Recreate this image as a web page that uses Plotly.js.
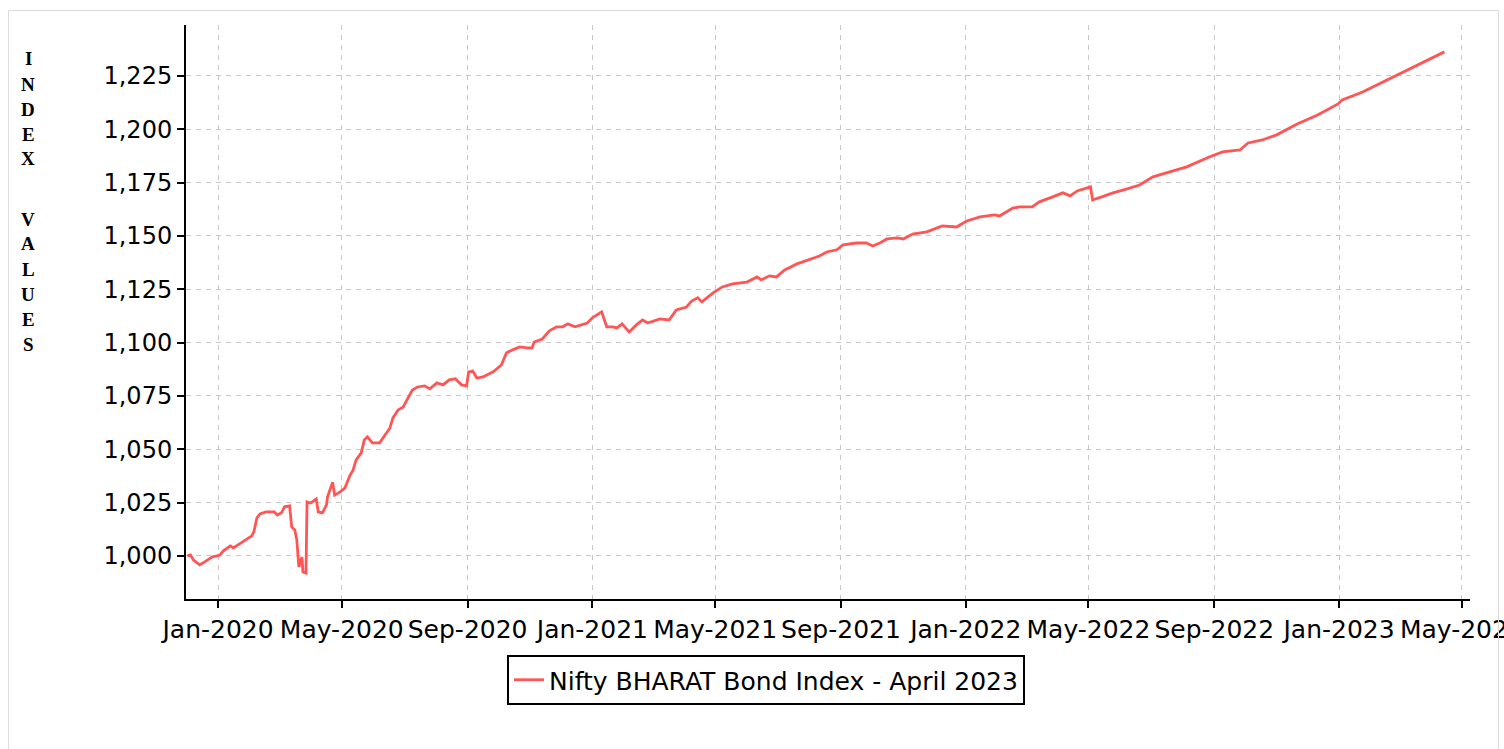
<!DOCTYPE html>
<html>
<head>
<meta charset="utf-8">
<script src="https://cdn.plot.ly/plotly-3.0.1.min.js"></script>
<style>
  html, body { margin: 0; padding: 0; background: #ffffff; }
  #chart { position: absolute; left: 0; top: 0; width: 1504px; height: 749px; }
  #frame { position: absolute; left: 8px; top: 10px; width: 1491px; height: 800px;
           border: 1px solid #dcdcdc; pointer-events: none; box-sizing: border-box; }
</style>
</head>
<body>
<div id="chart"></div>
<div id="frame"></div>
<script>
const seriesName = 'Nifty BHARAT Bond Index - April 2023';
const yTitleLetters = ['I','N','D','E','X','','V','A','L','U','E','S'];

const dates = [
'2019-12-02','2019-12-05','2019-12-08','2019-12-14','2019-12-19','2019-12-26','2019-12-31',
'2020-01-03','2020-01-06','2020-01-13','2020-01-16','2020-01-21','2020-01-28','2020-02-03',
'2020-02-05','2020-02-08','2020-02-11','2020-02-17','2020-02-25','2020-02-28','2020-03-03',
'2020-03-06','2020-03-11','2020-03-13','2020-03-16','2020-03-18','2020-03-19','2020-03-20',
'2020-03-23','2020-03-24','2020-03-27','2020-03-28','2020-03-31','2020-04-02','2020-04-06',
'2020-04-08','2020-04-12','2020-04-16','2020-04-17','2020-04-22','2020-04-24','2020-04-29',
'2020-05-04','2020-05-06','2020-05-09','2020-05-12','2020-05-15','2020-05-20','2020-05-23',
'2020-05-26','2020-05-31','2020-06-07','2020-06-12','2020-06-17','2020-06-20','2020-06-25',
'2020-06-30','2020-07-04','2020-07-09','2020-07-14','2020-07-21','2020-07-26','2020-08-02',
'2020-08-08','2020-08-14','2020-08-20','2020-08-26','2020-08-31','2020-09-02','2020-09-06',
'2020-09-10','2020-09-16','2020-09-26','2020-10-04','2020-10-09','2020-10-15','2020-10-22',
'2020-10-29','2020-11-03','2020-11-05','2020-11-13','2020-11-20','2020-11-27','2020-12-03',
'2020-12-08','2020-12-15','2020-12-27','2021-01-01','2021-01-08','2021-01-10','2021-01-15',
'2021-01-21','2021-01-25','2021-01-30','2021-02-06','2021-02-13','2021-02-19','2021-02-24',
'2021-03-08','2021-03-17','2021-03-24','2021-04-03','2021-04-08','2021-04-14','2021-04-18',
'2021-04-29','2021-05-08','2021-05-18','2021-06-01','2021-06-11','2021-06-15','2021-06-23',
'2021-06-30','2021-07-08','2021-07-20','2021-08-01','2021-08-11','2021-08-18','2021-08-28',
'2021-09-03','2021-09-16','2021-09-26','2021-10-02','2021-10-09','2021-10-16','2021-10-26',
'2021-11-01','2021-11-10','2021-11-24','2021-12-09','2021-12-23','2022-01-02','2022-01-15',
'2022-01-29','2022-02-03','2022-02-16','2022-02-23','2022-03-07','2022-03-14','2022-03-27',
'2022-04-06','2022-04-13','2022-04-20','2022-05-03','2022-05-05','2022-05-14','2022-05-25',
'2022-06-07','2022-06-20','2022-07-03','2022-07-16','2022-07-29','2022-08-05','2022-08-27',
'2022-09-09','2022-09-26','2022-10-04','2022-10-18','2022-11-01','2022-11-21','2022-12-11',
'2022-12-31','2023-01-04','2023-01-24','2023-02-13','2023-03-04','2023-03-18','2023-03-31',
'2023-04-14'
];

const values = [
1000.0,1000.5,998.1,995.8,997.2,999.5,1000.0,
1000.5,1002.3,1004.7,1003.8,1005.2,1007.5,1009.4,
1011.3,1017.8,1019.7,1020.6,1020.6,1019.2,1020.2,
1023.0,1023.4,1013.6,1012.2,1007.5,999.1,994.8,
999.5,992.5,992.0,1025.3,1024.8,1025.3,1026.7,
1020.6,1020.2,1023.9,1027.6,1034.6,1028.5,1029.9,
1031.8,1034.6,1037.8,1040.2,1045.0,1048.3,1054.4,
1055.8,1053.0,1053.0,1056.7,1060.0,1064.7,1068.4,
1069.8,1073.1,1077.8,1079.2,1079.7,1078.3,1081.1,
1080.2,1082.5,1083.0,1080.2,1079.7,1086.3,1086.7,
1083.4,1083.9,1086.3,1089.5,1095.2,1096.6,1098.0,
1097.5,1097.5,1100.3,1101.7,1105.5,1107.4,1107.4,
1108.8,1107.4,1109.2,1111.6,1113.9,1114.4,1107.4,
1107.4,1106.9,1108.8,1105.0,1108.3,1110.6,1109.2,
1111.1,1110.6,1115.3,1116.7,1119.5,1121.0,1119.1,
1123.3,1126.1,1127.5,1128.4,1130.8,1129.4,1131.3,
1130.8,1134.1,1136.9,1138.8,1140.6,1142.5,1143.5,
1145.8,1146.7,1146.7,1145.3,1146.7,1148.6,1149.1,
1148.6,1150.9,1151.9,1154.7,1154.2,1157.0,1158.9,
1159.9,1159.4,1163.1,1163.6,1163.6,1166.0,1168.3,
1170.2,1168.8,1171.1,1173.0,1166.9,1168.3,1170.2,
1172.0,1173.9,1177.7,1179.5,1181.4,1182.4,1187.0,
1189.4,1190.3,1193.6,1195.0,1197.4,1202.5,1206.7,
1211.9,1213.8,1217.5,1222.2,1226.4,1229.7,1233.0,
1236.3
];

const trace = {
  x: dates, y: values, type: 'scatter', mode: 'lines', name: seriesName,
  line: { color: '#ff5555', width: 2.8 }, showlegend: true
};

// vertical stacked y-axis title letters
const plotTop = 25, plotH = 574;
const annotations = [];
let py = 59;
yTitleLetters.forEach(function (ch) {
  if (ch !== '') {
    annotations.push({
      text: '<b>' + ch + '</b>', xref: 'paper', yref: 'paper',
      x: (28 - 186) / 1284, y: (plotTop + plotH - py) / plotH,
      xanchor: 'center', yanchor: 'middle', showarrow: false,
      font: { family: 'Liberation Serif, Times New Roman, serif', size: 19, color: '#000' }
    });
    py += 25;
  } else {
    py += 35;
  }
});

const layout = {
  width: 1504, height: 749,
  margin: { l: 186, r: 34, t: 25, b: 150 },
  paper_bgcolor: 'rgba(0,0,0,0)', plot_bgcolor: 'rgba(0,0,0,0)',
  font: { family: 'DejaVu Sans, sans-serif', color: '#000' },
  xaxis: {
    type: 'date',
    range: ['2019-11-30 16:00', '2023-05-09'],
    tick0: '2020-01-01', dtick: 'M4', tickformat: '%b-%Y',
    tickfont: { family: 'DejaVu Sans, sans-serif', size: 25, color: '#000' },
    ticklabeloverflow: 'allow',
    ticks: 'outside', ticklen: 7, tickwidth: 2, tickcolor: '#000',
    showline: true, linecolor: '#000', linewidth: 2,
    showgrid: true, gridcolor: '#c8c8c8', gridwidth: 1, griddash: '5px,5px',
    zeroline: false, automargin: false
  },
  yaxis: {
    range: [979.8, 1248.9],
    tick0: 1000, dtick: 25, tickformat: ',d',
    tickfont: { family: 'DejaVu Sans, sans-serif', size: 24, color: '#000' },
    ticks: 'outside', ticklen: 7, tickwidth: 2, tickcolor: '#000',
    showline: true, linecolor: '#000', linewidth: 2,
    showgrid: true, gridcolor: '#c8c8c8', gridwidth: 1, griddash: '5px,5px',
    zeroline: false, automargin: false
  },
  showlegend: true,
  legend: {
    orientation: 'h', x: (766 - 186) / 1284, xanchor: 'center',
    y: (599 - 655) / 574, yanchor: 'top',
    bordercolor: '#000', borderwidth: 2, bgcolor: '#fff',
    font: { family: 'DejaVu Sans, sans-serif', size: 25, color: '#000' }
  },
  annotations: annotations
};

Plotly.newPlot('chart', [trace], layout, { displayModeBar: false, staticPlot: true });
</script>
</body>
</html>
